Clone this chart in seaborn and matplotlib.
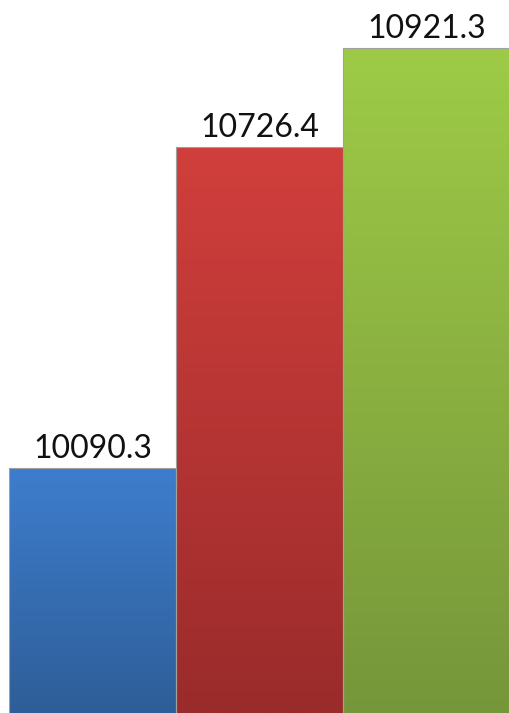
import numpy as np
import pandas as pd
import seaborn as sns
import matplotlib.pyplot as plt
from matplotlib.colors import to_rgb

categories = ["A", "B", "C"]
values = [10090.3, 10726.4, 10921.3]
labels = ["10090.3", "10726.4", "10921.3"]
top_colors = ["#3e7dcd", "#d13f3c", "#9ecb47"]
bottom_colors = ["#2e5e98", "#9a2b2b", "#76963a"]

df = pd.DataFrame({"cat": categories, "val": values})

sns.set_style("white")
plt.rcParams["font.family"] = ["Lato", "DejaVu Sans"]

fig = plt.figure(figsize=(5.1, 7.13), dpi=100)
ax = fig.add_axes([9 / 510, 0, 501 / 510, 1])

sns.barplot(data=df, x="cat", y="val", ax=ax, width=1.0,
            color="white", edgecolor="#a0a0a0", linewidth=0.8)

ymin, ymax = 9606, 11017
ax.set_ylim(ymin, ymax)
ax.set_xlim(-0.5, 2.5)

# gradient fills clipped to each bar
t = np.linspace(0, 1, 256)[:, None, None]
for patch, c_top, c_bot in zip(ax.patches, top_colors, bottom_colors):
    x0 = patch.get_x()
    x1 = x0 + patch.get_width()
    y1 = patch.get_height()
    ctop = np.array(to_rgb(c_top))[None, None, :]
    cbot = np.array(to_rgb(c_bot))[None, None, :]
    grad = ctop * (1 - t) + cbot * t
    im = ax.imshow(grad, extent=(x0, x1, ymin, y1), origin="upper",
                   aspect="auto", interpolation="bilinear", zorder=1)
    im.set_clip_path(patch)
    patch.set_facecolor("none")
    patch.set_zorder(2)

ax.set_xlim(-0.5, 2.5)
ax.set_ylim(ymin, ymax)
ax.bar_label(ax.containers[0], labels=labels, padding=3, fontsize=23,
             color="#111111")

ax.set_axis_off()
fig.savefig("out.png", dpi=100)
